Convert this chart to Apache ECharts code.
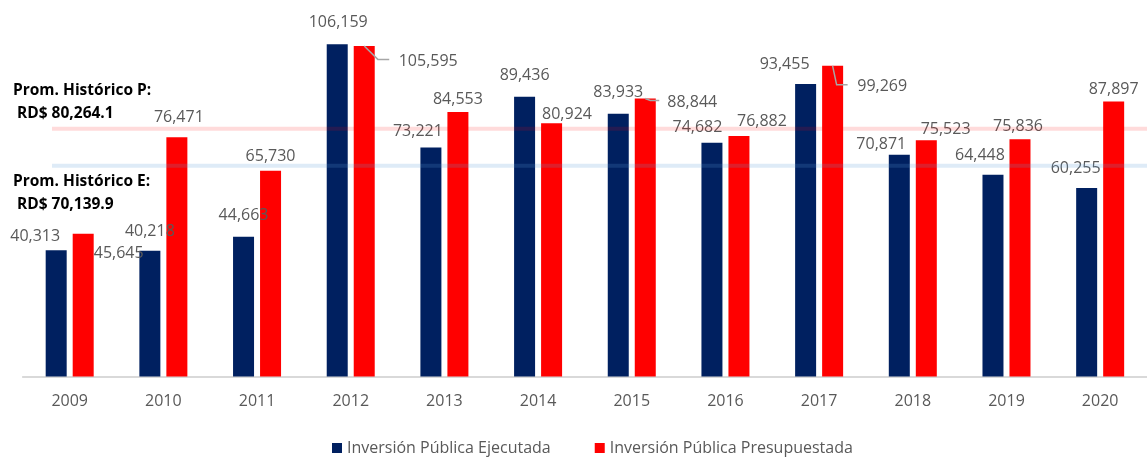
<!DOCTYPE html>
<html>
<head>
<meta charset="utf-8">
<script src="https://cdn.jsdelivr.net/npm/echarts@6/dist/echarts.min.js"></script>
<style>
html,body{margin:0;padding:0;background:#fff;}
#chart{width:1147px;height:457px;}
</style>
</head>
<body>
<div id="chart"></div>
<script>
// ---- data ----
var years = ['2009','2010','2011','2012','2013','2014','2015','2016','2017','2018','2019','2020'];
var ejecutada = [40313, 40218, 44663, 106159, 73221, 89436, 83933, 74682, 93455, 70871, 64448, 60255];
var presupuestada = [45645, 76471, 65730, 105595, 84553, 80924, 88844, 76882, 99269, 75523, 75836, 87897];
var seriesNames = ['Inversión Pública Ejecutada', 'Inversión Pública Presupuestada'];
var avgTexts = [['Prom. Histórico P:', ' RD$ 80,264.1'], ['Prom. Histórico E:', ' RD$ 70,139.9']];
// levels (in y-axis units) at which the two average bands are drawn in the picture
var avgBandLevels = [79160, 67370];

// ---- style / layout (not data) ----
var FONT = 'Open Sans';
var NAVY = '#002060', RED = '#FF0000', TXT = '#595959';
var offE = [[-21,-5.7],[0,-11.7],[0,-13.7],[1,-13.6],[-13,-7.7],[0,-13.7],[0,-13.6],[-14.5,-7.5],[-21,-11.8],[-18,-2.7],[-13,-11.8],[-11,-11.7]];
var offP = [[35.5,27.3],[2,-11.9],[0,-6.8],[64,23],[0,-4.9],[15.4,-1],[47,12.2],[23,-6.2],[49.6,28.7],[19.3,-2.9],[-2,-4.5],[0,-4.5]];
var leaders = { 3: [[0,0],[13.6,13.3],[25,13.3]], 6: [[0,0],[5,2],[14,2]], 8: [[0,0],[4,19],[15,19]] };

function fmt(v){ return v.toString().replace(/\B(?=(\d{3})+(?!\d))/g, ','); }
function mk(vals, offs){
  return vals.map(function(v,i){
    return { value: v, label: { offset: offs[i] } };
  });
}
var labelBase = {
  show: true, position: 'top', distance: 0,
  fontFamily: FONT, fontSize: 16, lineHeight: 16, color: TXT,
  formatter: function(p){ return fmt(p.value); }
};

var chart = echarts.init(document.getElementById('chart'));
chart.setOption({
  animation: false,
  backgroundColor: '#fff',
  grid: { left: 22.85, top: 1, width: 1131.65, height: 375.5, containLabel: false },
  xAxis: {
    type: 'category', data: years,
    axisLine: { show: true, lineStyle: { color: '#D9D9D9', width: 2 } },
    axisTick: { show: false },
    axisLabel: { fontFamily: FONT, fontSize: 16, lineHeight: 16, color: TXT, margin: 17 }
  },
  yAxis: { type: 'value', min: 0, max: 120000, show: false, splitLine: { show: false } },
  legend: {
    left: 332, top: 440, padding: 0, itemWidth: 10, itemHeight: 10, itemGap: 44,
    icon: 'rect',
    textStyle: { fontFamily: FONT, fontSize: 16, lineHeight: 16, color: TXT },
    data: seriesNames
  },
  series: [
    { name: seriesNames[0], type: 'bar', barWidth: 21, barGap: '28.6%', itemStyle: { color: NAVY },
      label: labelBase, data: mk(ejecutada, offE) },
    { name: seriesNames[1], type: 'bar', barWidth: 21, barGap: '28.6%', itemStyle: { color: RED },
      label: labelBase, data: mk(presupuestada, offP) }
  ]
});

function px(cat, val){ return chart.convertToPixel({ gridIndex: 0 }, [cat, val]); }
var graphics = [];
var bandColors = ['rgba(255,0,0,0.14)', 'rgba(91,155,213,0.2)'];
avgBandLevels.forEach(function(lv, k){
  var y = px(0, lv)[1];
  graphics.push({ type: 'rect', shape: { x: 52, y: y - 2, width: 1095, height: 4 },
    style: { fill: bandColors[k] }, z: 100 });
});
var textY = [[90.7, 113.3], [181.7, 204.5]];
avgTexts.forEach(function(pair, k){
  pair.forEach(function(t, j){
    graphics.push({ type: 'text', x: 13, y: textY[k][j], z: 101,
      style: { text: t, fontFamily: FONT, fontWeight: 'bold', fontSize: 15.5, fill: '#000',
        verticalAlign: 'middle', textAlign: 'left' } });
  });
});
Object.keys(leaders).forEach(function(key){
  var i = +key;
  var p = px(i, presupuestada[i]);
  var bx = p[0] + 13.5, by = p[1];
  graphics.push({ type: 'polyline', z: 101,
    shape: { points: leaders[key].map(function(d){ return [bx + d[0], by + d[1]]; }) },
    style: { stroke: '#A6A6A6', lineWidth: 1.5, fill: null } });
});
chart.setOption({ graphic: graphics });
</script>
</body>
</html>
